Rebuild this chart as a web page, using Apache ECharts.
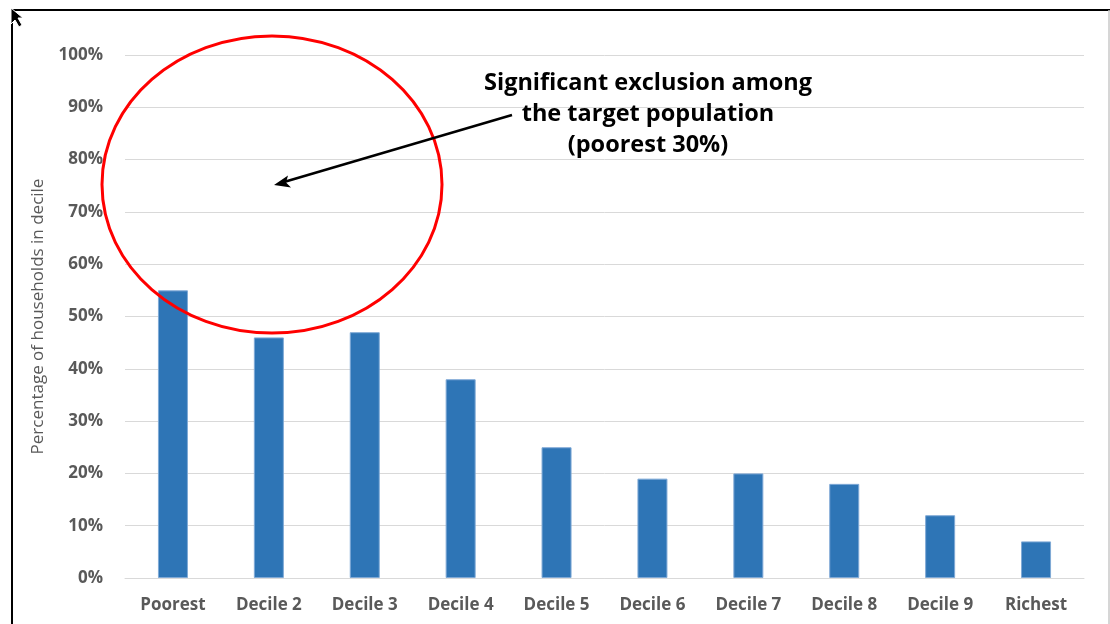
<!DOCTYPE html>
<html>
<head>
<meta charset="utf-8">
<script src="https://cdn.jsdelivr.net/npm/echarts@6/dist/echarts.min.js"></script>
<style>
  html, body { margin: 0; padding: 0; background: #fff; }
  #chart { width: 1110px; height: 624px; }
</style>
</head>
<body>
<div id="chart"></div>
<script>
// Share of households in each income decile
const categories = ['Poorest', 'Decile 2', 'Decile 3', 'Decile 4', 'Decile 5',
                    'Decile 6', 'Decile 7', 'Decile 8', 'Decile 9', 'Richest'];
const shares = [55, 46, 47, 38, 25, 19, 20, 18, 12, 7];
const yAxisTitle = 'Percentage of households in decile';
const calloutLines = ['Significant exclusion among', 'the target population', '(poorest 30%)'];

const chart = echarts.init(document.getElementById('chart'));
const labelFont = '"Open Sans", "DejaVu Sans", sans-serif';
const calloutFont = 'bold 23.5px "Open Sans", sans-serif';

chart.setOption({
  animation: false,
  backgroundColor: '#ffffff',
  grid: { left: 125, right: 26, top: 55, bottom: 46, containLabel: false },
  xAxis: {
    type: 'category',
    data: categories,
    axisLine: { show: true, lineStyle: { color: '#d9d9d9', width: 1 } },
    axisTick: { show: false },
    axisLabel: { color: '#595959', fontFamily: labelFont, fontWeight: 'bold', fontSize: 17, margin: 19 }
  },
  yAxis: {
    type: 'value',
    min: 0, max: 100, interval: 10,
    name: yAxisTitle,
    nameLocation: 'middle',
    nameGap: 78,
    nameTextStyle: { color: '#595959', fontFamily: labelFont, fontSize: 17 },
    axisLine: { show: false },
    axisTick: { show: false },
    axisLabel: { formatter: '{value}%', color: '#595959', fontFamily: labelFont, fontWeight: 'bold', fontSize: 17,
                 margin: 22, padding: [6, 0, 0, 0] },
    splitLine: { lineStyle: { color: '#d9d9d9', width: 1 } }
  },
  series: [{
    type: 'bar',
    data: shares,
    barWidth: 30,
    itemStyle: { color: '#2E75B6', borderColor: '#7fa9d6', borderWidth: 1 }
  }],
  graphic: [
    // slide frame
    { type: 'line', shape: { x1: 11, y1: 10, x2: 1110, y2: 10 }, style: { stroke: '#000', lineWidth: 2 } },
    { type: 'line', shape: { x1: 12, y1: 10, x2: 12, y2: 624 }, style: { stroke: '#000', lineWidth: 2 } },
    { type: 'line', shape: { x1: 1109, y1: 10, x2: 1109, y2: 624 }, style: { stroke: '#c8c8c8', lineWidth: 1.5 } },
    // pointer cursor
    { type: 'polygon', shape: { points: [[11, 8], [11, 24], [15, 20], [19, 27], [22, 25], [18, 18], [23, 18]] },
      style: { fill: '#000', stroke: '#fff', lineWidth: 1 } },
    // highlight ellipse around the poorest deciles
    { type: 'ellipse', shape: { cx: 272, cy: 184.5, rx: 170, ry: 148.5 },
      style: { fill: 'none', stroke: '#ff0000', lineWidth: 3 }, z: 10 },
    // callout arrow
    { type: 'line', shape: { x1: 512, y1: 115, x2: 284, y2: 182 }, style: { stroke: '#000', lineWidth: 2.5 }, z: 10 },
    { type: 'polygon', shape: { points: [[274, 185], [288, 175.5], [286, 182.5], [291, 187.5]] },
      style: { fill: '#000' }, z: 10 },
    // callout text
    { type: 'text', z: 10,
      style: { x: 648, y: 83, text: calloutLines[0], align: 'center', verticalAlign: 'middle',
               font: calloutFont, fill: '#000' } },
    { type: 'text', z: 10,
      style: { x: 648, y: 114, text: calloutLines[1], align: 'center', verticalAlign: 'middle',
               font: calloutFont, fill: '#000' } },
    { type: 'text', z: 10,
      style: { x: 648, y: 145, text: calloutLines[2], align: 'center', verticalAlign: 'middle',
               font: calloutFont, fill: '#000' } }
  ]
});
</script>
</body>
</html>
